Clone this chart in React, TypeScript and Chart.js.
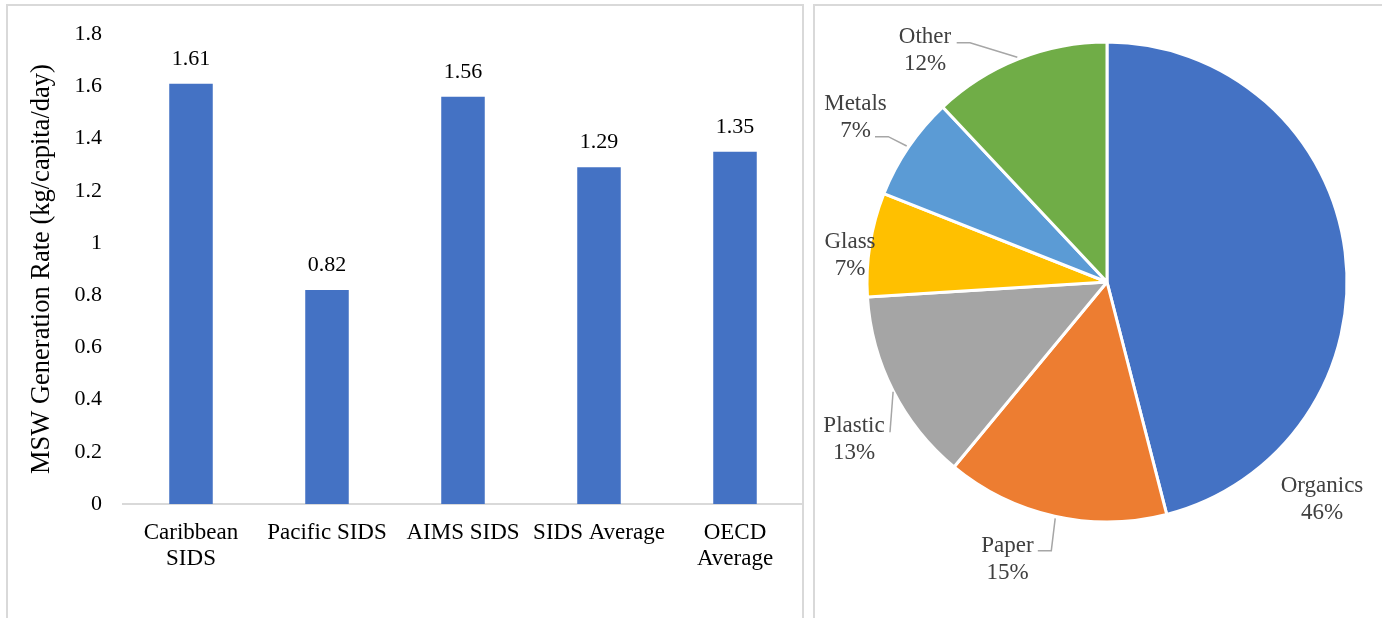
import React, { useEffect, useRef } from "react";
import { Chart, registerables } from "chart.js";

Chart.register(...registerables);

// ---- Data: MSW generation rate by region ----
const regionLabels: (string | string[])[] = [
  ["Caribbean", "SIDS"],
  "Pacific SIDS",
  "AIMS SIDS",
  "SIDS Average",
  ["OECD", "Average"],
];
const generationRates = [1.61, 0.82, 1.56, 1.29, 1.35];
const rateTickValues = [0, 0.2, 0.4, 0.6, 0.8, 1, 1.2, 1.4, 1.6, 1.8];
const rateAxisTitle = "MSW Generation Rate (kg/capita/day)";

// ---- Data: waste composition ----
const wasteTypes = ["Organics", "Paper", "Plastic", "Glass", "Metals", "Other"];
const wasteShares = [46, 15, 13, 7, 7, 12];
const wasteColors = ["#4472C4", "#ED7D31", "#A5A5A5", "#FFC000", "#5B9BD5", "#70AD47"];

// Label placement around the pie, as offsets (px) from the pie centre.
// text: centre of the two-line label block; leader: polyline from slice edge to label.
const pieLabelLayout: { text: [number, number]; leader?: [number, number][] }[] = [
  { text: [215, 217] },
  { text: [-99.5, 277], leader: [[-51.8, 236.3], [-55.7, 268.7], [-69.2, 268.7]] },
  { text: [-253, 157.5], leader: [[-213.9, 109.7], [-217, 150.3]] },
  { text: [-257, -27] },
  { text: [-251.5, -164.5], leader: [[-200.3, -136], [-218.7, -145.3], [-232, -145.3]] },
  { text: [-182, -232], leader: [[-89.7, -224.7], [-137, -239.3], [-150.3, -239.3]] },
];

const SERIF = '"Liberation Serif", "Times New Roman", serif';

const barValueLabels = {
  id: "barValueLabels",
  afterDatasetsDraw(chart: any) {
    const { ctx } = chart;
    const meta = chart.getDatasetMeta(0);
    const values = chart.data.datasets[0].data as number[];
    ctx.save();
    ctx.font = `22px ${SERIF}`;
    ctx.fillStyle = "#000000";
    ctx.textAlign = "center";
    ctx.textBaseline = "alphabetic";
    meta.data.forEach((bar: any, i: number) => {
      ctx.fillText(values[i].toFixed(2), bar.x, bar.y - 19);
    });
    ctx.restore();
  },
};

const pieOutsideLabels = {
  id: "pieOutsideLabels",
  afterDatasetsDraw(chart: any) {
    const { ctx } = chart;
    const meta = chart.getDatasetMeta(0);
    const values = chart.data.datasets[0].data as number[];
    const total = values.reduce((a, b) => a + b, 0);
    const first = meta.data[0];
    const cx = first.x;
    const cy = first.y;
    ctx.save();
    // leader lines
    ctx.strokeStyle = "#A6A6A6";
    ctx.lineWidth = 1.5;
    pieLabelLayout.forEach((lay) => {
      if (!lay.leader) return;
      ctx.beginPath();
      lay.leader.forEach(([dx, dy], k) => {
        if (k === 0) ctx.moveTo(cx + dx, cy + dy);
        else ctx.lineTo(cx + dx, cy + dy);
      });
      ctx.stroke();
    });
    // two-line labels: category + percentage
    ctx.font = `23px ${SERIF}`;
    ctx.fillStyle = "#404040";
    ctx.textAlign = "center";
    ctx.textBaseline = "middle";
    const lineGap = 27;
    pieLabelLayout.forEach((lay, i) => {
      const x = cx + lay.text[0];
      const y = cy + lay.text[1];
      const pct = Math.round((values[i] / total) * 100) + "%";
      ctx.fillText(chart.data.labels[i], x, y - lineGap / 2);
      ctx.fillText(pct, x, y + lineGap / 2);
    });
    ctx.restore();
  },
};

function BarPanel() {
  const ref = useRef<HTMLCanvasElement>(null);
  useEffect(() => {
    const chart = new Chart(ref.current!, {
      type: "bar",
      data: {
        labels: regionLabels as any,
        datasets: [
          {
            data: generationRates,
            backgroundColor: "#4472C4",
            borderWidth: 0,
            categoryPercentage: 0.32,
            barPercentage: 1,
          },
        ],
      },
      options: {
        responsive: false,
        maintainAspectRatio: false,
        animation: false,
        devicePixelRatio: 1,
        layout: { padding: { top: 32, left: 0, right: 0, bottom: 0 } },
        plugins: { legend: { display: false }, tooltip: { enabled: false } },
        scales: {
          x: {
            grid: { display: false, drawTicks: false },
            border: { display: true, color: "#D9D9D9", width: 2 },
            ticks: {
              color: "#000000",
              font: { family: SERIF, size: 23, lineHeight: 1.13 },
              padding: 16,
              maxRotation: 0,
              autoSkip: false,
            },
            afterFit: (s: any) => {
              s.height = 114;
            },
          },
          y: {
            min: 0,
            max: 1.8,
            grid: { display: false, drawTicks: false },
            border: { display: false },
            afterBuildTicks: (s: any) => {
              s.ticks = rateTickValues.map((v) => ({ value: v }));
            },
            ticks: {
              color: "#000000",
              font: { family: SERIF, size: 22 },
              padding: 21,
              callback: (v: any) => String(Number(Number(v).toFixed(1))),
            },
            title: {
              display: true,
              text: rateAxisTitle,
              color: "#000000",
              font: { family: SERIF, size: 26.5 },
              padding: { top: 26, bottom: 0 },
            },
            afterFit: (s: any) => {
              s.width = 123;
            },
          },
        },
      },
      plugins: [barValueLabels],
    });
    return () => chart.destroy();
  }, []);
  return (
    <canvas
      ref={ref}
      width={803}
      height={618}
      style={{ position: "absolute", left: 0, top: 0, width: 803, height: 618 }}
    />
  );
}

function PiePanel() {
  const ref = useRef<HTMLCanvasElement>(null);
  useEffect(() => {
    const chart = new Chart(ref.current!, {
      type: "pie",
      data: {
        labels: wasteTypes,
        datasets: [
          {
            data: wasteShares,
            backgroundColor: wasteColors,
            borderColor: "#FFFFFF",
            borderWidth: 3,
          },
        ],
      },
      options: {
        responsive: false,
        maintainAspectRatio: false,
        animation: false,
        devicePixelRatio: 1,
        layout: { padding: { left: 51.5, right: 33.5, top: 40.5, bottom: 94.5 } },
        plugins: { legend: { display: false }, tooltip: { enabled: false } },
      },
      plugins: [pieOutsideLabels],
    });
    return () => chart.destroy();
  }, []);
  return (
    <canvas
      ref={ref}
      width={568}
      height={618}
      style={{ position: "absolute", left: 814, top: 0, width: 568, height: 618 }}
    />
  );
}

export default function App() {
  return (
    <div
      style={{
        position: "fixed",
        left: 0,
        top: 0,
        width: 1382,
        height: 618,
        overflow: "hidden",
        background: "#FFFFFF",
      }}
    >
      <div
        style={{
          position: "absolute",
          left: 6,
          top: 4,
          width: 798,
          height: 700,
          boxSizing: "border-box",
          border: "2px solid #D9D9D9",
        }}
      />
      <div
        style={{
          position: "absolute",
          left: 813,
          top: 4,
          width: 700,
          height: 700,
          boxSizing: "border-box",
          border: "2px solid #D9D9D9",
        }}
      />
      <BarPanel />
      <PiePanel />
    </div>
  );
}
